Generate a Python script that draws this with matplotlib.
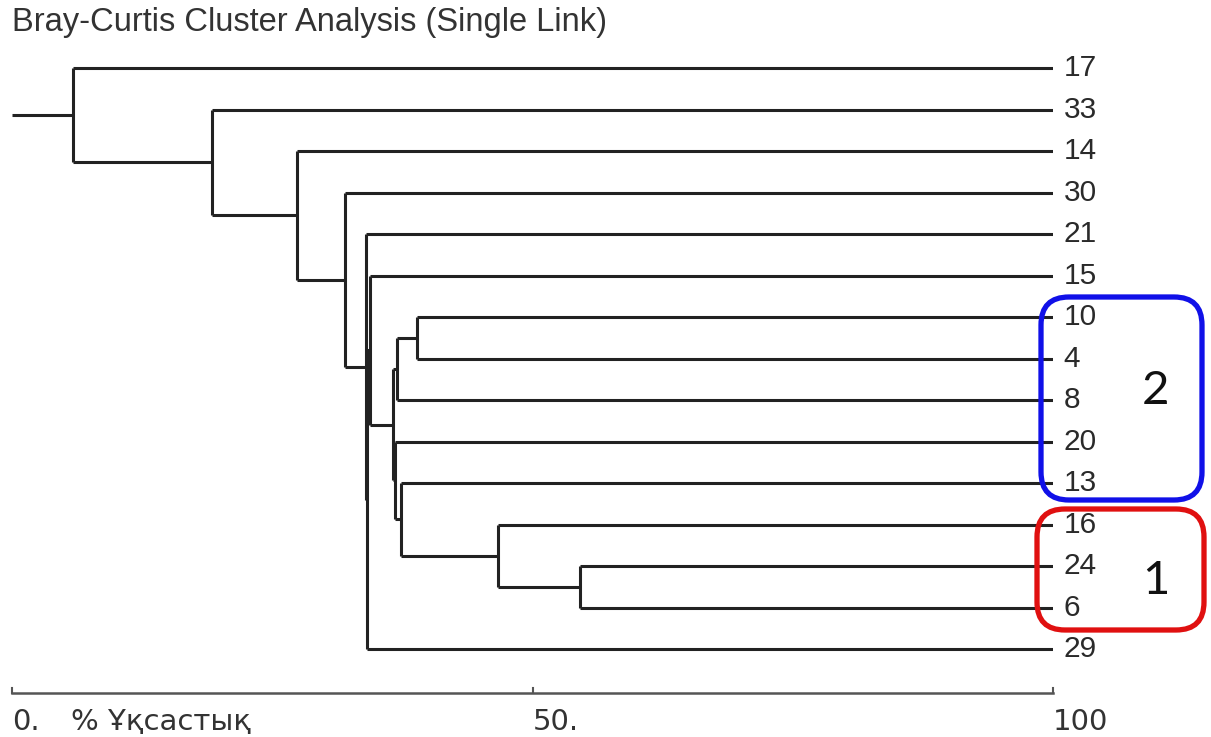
import matplotlib
matplotlib.use("Agg")
import matplotlib.pyplot as plt
from matplotlib.patches import FancyBboxPatch

# leaves top to bottom, as they appear on the right
leaves = ['17', '33', '14', '30', '21', '15', '10', '4', '8', '20', '13', '16', '24', '6', '29']

# merges (single link), similarity in %
node_names = ['n0', 'n1', 'n2', 'n3', 'n4', 'n5', 'n6', 'n7', 'n8', 'n9', 'n10', 'n11', 'n12', 'n13']
link_left  = ['24', '16', '13', '10', 'n3', '20', 'n4', '15', 'n7', '21', '30', '14', '33', '17']
link_right = ['6',  'n0', 'n1', '4',  '8',  'n2', 'n5', 'n6', '29', 'n8', 'n9', 'n10', 'n11', 'n12']
link_sim   = [54.6, 46.7, 37.4, 38.9, 37.0, 36.8, 36.6, 34.4, 34.1, 34.0, 32.0, 27.4, 19.2, 5.9]

axis_ticks = [0, 50, 100]
axis_ticklabels = ['0.', '50.', '100']
axis_label = '% Ұқсастық'
title = 'Bray-Curtis Cluster Analysis (Single Link)'

# groups marked on the right
groups = ['2', '1']

W, H = 1211, 737
fig = plt.figure(figsize=(W / 100, H / 100), dpi=100)

# main axes: x = similarity, y = leaf index
ax = fig.add_axes([12 / W, 1 - 693 / H, 1041 / W, (693 - 26.5) / H])
ax.set_xlim(0, 100)
ax.set_ylim(15.06, -1)
ax.axis('off')

line_kw = dict(color='#222222', lw=2.2, solid_capstyle='butt', solid_joinstyle='miter')

ypos = {name: i for i, name in enumerate(leaves)}
xpos = {name: 100 for name in leaves}
for name, a, b, s in zip(node_names, link_left, link_right, link_sim):
    ya, yb = ypos[a], ypos[b]
    ax.plot([s, s], [ya, yb], **line_kw)
    ax.plot([s, xpos[a]], [ya, ya], **line_kw)
    ax.plot([s, xpos[b]], [yb, yb], **line_kw)
    ypos[name] = (ya + yb) / 2
    xpos[name] = s

root = node_names[-1]
ax.plot([0, xpos[root]], [ypos[root], ypos[root]], **line_kw)

for i, name in enumerate(leaves):
    ax.text(101, i, name, ha='left', va='center', fontsize=21.5,
            family='Liberation Sans', color='#2a2a2a', clip_on=False)

# similarity axis
ybase = 15.06
ax.plot([0, 100], [ybase, ybase], color='#555555', lw=1.8, clip_on=False)
for t, lab in zip(axis_ticks, axis_ticklabels):
    ax.plot([t, t], [ybase, ybase - 0.12], color='#555555', lw=1.5, clip_on=False)
    ax.text(t, ybase + 0.35, lab, ha='left', va='top', fontsize=21,
            family=['Liberation Sans Narrow', 'DejaVu Sans'], color='#333333', clip_on=False)
ax.text(5.7, ybase + 0.35, axis_label, ha='left', va='top', fontsize=21,
        family=['Liberation Sans Narrow', 'DejaVu Sans'], color='#333333', clip_on=False)

fig.text(12 / W, 1 - 22 / H, title, ha='left', va='center', fontsize=23.5,
         family='Liberation Sans', color='#333333')

# overlay in pixel units for the group boxes
ov = fig.add_axes([0, 0, 1, 1])
ov.set_xlim(0, W)
ov.set_ylim(H, 0)
ov.axis('off')
ov.patch.set_alpha(0)

box_x = [1041, 1037]
box_y = [297, 509]
box_w = [161, 167]
box_h = [203, 121]
box_colors = ['#1010e8', '#e01010']
for g, x, y, w, h, c in zip(groups, box_x, box_y, box_w, box_h, box_colors):
    ov.add_patch(FancyBboxPatch((x, y), w, h, boxstyle='round,pad=0,rounding_size=28',
                                fill=False, ec=c, lw=3.8))
    ov.text(x + w * 0.71, y + h / 2 - 8 * (g == '2') + 12 * (g == '1'), g, ha='center', va='center',
            fontsize=34, family='Lato', color='#111111')

fig.savefig('out.png', dpi=100)
